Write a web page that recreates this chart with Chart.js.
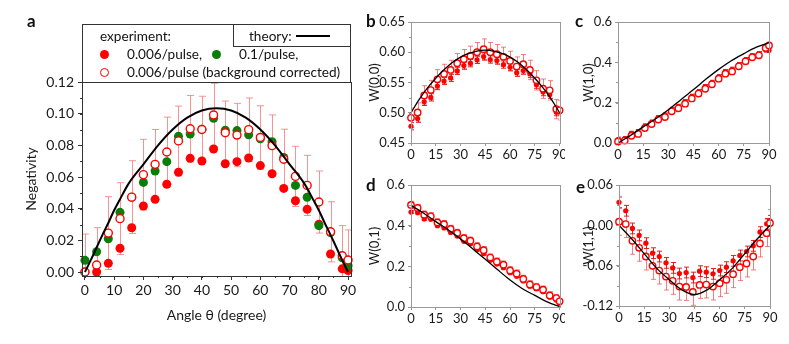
<!DOCTYPE html>
<html>
<head>
<meta charset="utf-8">
<script src="https://cdn.jsdelivr.net/npm/chart.js@4.4.1/dist/chart.umd.min.js"></script>
<style>
  body { margin: 0; background: #fff; }
  #wrap { position: relative; width: 789px; height: 344px; overflow: hidden; font-family: Lato, "Open Sans", sans-serif; color: #111; }
  .pane { position: absolute; }
  .lab { position: absolute; font-weight: bold; font-size: 17px; line-height: 20px; }
  .txt { position: absolute; font-size: 13.6px; line-height: 16px; white-space: nowrap; }
  .dot { position: absolute; width: 9px; height: 9px; border-radius: 50%; box-sizing: border-box; }
</style>
</head>
<body>
<div id="wrap">
  <div class="pane" style="left:0;top:0;width:360px;height:344px"><canvas id="ca"></canvas></div>
  <div class="pane" style="left:365px;top:0;width:200px;height:170px"><canvas id="cb"></canvas></div>
  <div class="pane" style="left:575px;top:0;width:214px;height:170px"><canvas id="cc"></canvas></div>
  <div class="pane" style="left:365px;top:170px;width:200px;height:174px"><canvas id="cd"></canvas></div>
  <div class="pane" style="left:575px;top:170px;width:214px;height:174px"><canvas id="ce"></canvas></div>

  <!-- legend of panel a -->
  <div style="position:absolute;left:82px;top:24px;width:269px;height:59px;border:1px solid #333;box-sizing:border-box;background:#fff"></div>
  <div style="position:absolute;left:233px;top:24px;width:118px;height:23px;border:1px solid #333;box-sizing:border-box"></div>
  <div class="txt" style="left:100px;top:28px">experiment:</div>
  <div class="txt" style="left:249px;top:28px">theory:</div>
  <div style="position:absolute;left:296px;top:35px;width:34px;height:2px;background:#000"></div>
  <div class="dot" style="left:100px;top:50px;background:#ff0000"></div>
  <div class="txt" style="left:127px;top:46px">0.006/pulse,</div>
  <div class="dot" style="left:212px;top:50px;background:#0a7d0a"></div>
  <div class="txt" style="left:239px;top:46px">0.1/pulse,</div>
  <div class="dot" style="left:100px;top:68px;border:1.5px solid #ff0000;background:#fff"></div>
  <div class="txt" style="left:127px;top:64px">0.006/pulse (background corrected)</div>

  <div class="lab" style="left:27px;top:11px">a</div>
  <div class="lab" style="left:366px;top:11px">b</div>
  <div class="lab" style="left:575px;top:11px">c</div>
  <div class="lab" style="left:366px;top:175px">d</div>
  <div class="lab" style="left:576px;top:177px">e</div>
</div>
<script>
// ---- panel a: negativity vs angle ----
const anglesA = [0, 4, 8, 12, 16, 20, 24, 28, 32, 36, 40, 44, 48, 52, 56, 60, 64, 68, 72, 76, 80, 84, 88, 90];
const negLow = [0.0, 0.0, 0.0055, 0.015, 0.028, 0.0417, 0.0459, 0.0554, 0.063, 0.0718, 0.0701, 0.0777,
  0.0684, 0.0697, 0.072, 0.0672, 0.0621, 0.0528, 0.045, 0.0396, 0.0301, 0.0114, 0.002, 0.001];
const negHigh = [0.0074, 0.0128, 0.021, 0.0377, 0.0472, 0.0566, 0.0638, 0.0697, 0.0857, 0.0872, 0.0901, 0.0971,
  0.0895, 0.0893, 0.0867, 0.0842, 0.0823, 0.0724, 0.0547, 0.0472, 0.0293, 0.025, 0.009, 0.004];
const negCorr = [0.0, 0.0044, 0.0246, 0.0337, 0.0473, 0.0615, 0.068, 0.0758, 0.0828, 0.0905, 0.09, 0.0992,
  0.088, 0.0865, 0.0899, 0.085, 0.0798, 0.0712, 0.0604, 0.0547, 0.0442, 0.0254, 0.0103, 0.0076];
const negCorrErr = [0.024, 0.0236, 0.023, 0.0227, 0.023, 0.0223, 0.022, 0.022, 0.022, 0.021, 0.021, 0.02,
  0.02, 0.02, 0.02, 0.02, 0.0194, 0.019, 0.019, 0.019, 0.0196, 0.019, 0.019, 0.019];
const thAnglesA = [0, 2, 4, 6, 8, 10, 12, 15, 20, 25, 30, 35, 40, 45, 50, 55, 60, 65, 70, 75, 78, 80, 82, 84, 86, 88, 90];
const thNeg = [0, 0.0075, 0.0155, 0.0235, 0.031, 0.039, 0.046, 0.056, 0.068, 0.08, 0.09, 0.0975, 0.102, 0.1034,
  0.102, 0.0975, 0.09, 0.08, 0.068, 0.056, 0.046, 0.039, 0.031, 0.0235, 0.0155, 0.0075, 0];

// ---- panels b-e: W(m,n) vs angle ----
const anglesW = [0, 4, 8, 12, 16, 20, 24, 28, 32, 36, 40, 44, 48, 52, 56, 60, 64, 68, 72, 76, 80, 84, 88, 90];
const w00Corr = [0.4916, 0.5004, 0.5287, 0.5375, 0.5553, 0.5641, 0.5708, 0.5819, 0.5885, 0.594, 0.6001, 0.6051,
  0.6001, 0.5968, 0.5924, 0.5857, 0.5763, 0.5802, 0.5708, 0.5536, 0.5398, 0.537, 0.506, 0.504];
const w00Raw = [0.4777, 0.4904, 0.5181, 0.5254, 0.5442, 0.5525, 0.5575, 0.5691, 0.578, 0.5819, 0.5874, 0.5929,
  0.588, 0.5863, 0.5796, 0.5752, 0.5663, 0.5697, 0.5641, 0.5464, 0.5342, 0.5298, 0.501, 0.5026];
const w10Corr = [0.008, 0.012, 0.036, 0.045, 0.074, 0.094, 0.116, 0.129, 0.157, 0.172, 0.195, 0.221,
  0.245, 0.269, 0.291, 0.319, 0.344, 0.355, 0.38, 0.405, 0.425, 0.435, 0.471, 0.484];
const w10Raw = [0.017, 0.02, 0.046, 0.055, 0.083, 0.102, 0.124, 0.137, 0.165, 0.18, 0.203, 0.23,
  0.253, 0.278, 0.299, 0.327, 0.352, 0.364, 0.387, 0.412, 0.431, 0.441, 0.463, 0.46];
const w01Corr = [0.502, 0.487, 0.454, 0.446, 0.416, 0.407, 0.384, 0.364, 0.338, 0.326, 0.298, 0.279,
  0.243, 0.223, 0.208, 0.18, 0.164, 0.138, 0.111, 0.098, 0.085, 0.057, 0.044, 0.028];
const w01Raw = [0.467, 0.464, 0.433, 0.431, 0.4, 0.389, 0.367, 0.349, 0.323, 0.311, 0.282, 0.262,
  0.23, 0.211, 0.193, 0.169, 0.151, 0.128, 0.102, 0.09, 0.075, 0.049, 0.034, 0.02];
const w11Corr = [0.0053, 0.0018, -0.023, -0.0334, -0.0464, -0.0603, -0.0673, -0.0762, -0.0826, -0.0911, -0.0916, -0.099,
  -0.0886, -0.0881, -0.0911, -0.0861, -0.0811, -0.0727, -0.0622, -0.0568, -0.0464, -0.027, -0.0116, 0.0033];
const w11Raw = [0.0342, 0.0217, -0.0046, -0.015, -0.0265, -0.0414, -0.0464, -0.0558, -0.0633, -0.0717, -0.0702, -0.0777,
  -0.0682, -0.0697, -0.0722, -0.0672, -0.0622, -0.0528, -0.0449, -0.0389, -0.0305, -0.0101, 0.0023, 0.0068];

const errB = [0.016, 0.016, 0.016, 0.016, 0.016, 0.016, 0.016, 0.016, 0.016, 0.016, 0.016, 0.017,
  0.016, 0.016, 0.016, 0.016, 0.016, 0.016, 0.016, 0.016, 0.016, 0.016, 0.016, 0.016];
const errBRaw = [0.006, 0.006, 0.006, 0.006, 0.006, 0.006, 0.006, 0.006, 0.006, 0.006, 0.006, 0.006,
  0.006, 0.006, 0.006, 0.006, 0.006, 0.006, 0.006, 0.006, 0.006, 0.006, 0.006, 0.006];
const errC = [0.012, 0.012, 0.012, 0.012, 0.012, 0.012, 0.012, 0.012, 0.012, 0.012, 0.012, 0.012,
  0.012, 0.012, 0.012, 0.012, 0.012, 0.012, 0.012, 0.012, 0.012, 0.012, 0.012, 0.012];
const errD = [0.018, 0.018, 0.018, 0.018, 0.018, 0.018, 0.018, 0.018, 0.018, 0.018, 0.018, 0.018,
  0.018, 0.018, 0.018, 0.018, 0.018, 0.018, 0.018, 0.018, 0.018, 0.018, 0.018, 0.018];
const errE = [0.02, 0.02, 0.02, 0.02, 0.02, 0.02, 0.02, 0.02, 0.02, 0.02, 0.02, 0.02,
  0.02, 0.02, 0.02, 0.02, 0.02, 0.02, 0.02, 0.02, 0.02, 0.02, 0.02, 0.02];
const errERaw = [0.008, 0.008, 0.008, 0.008, 0.008, 0.008, 0.008, 0.008, 0.008, 0.008, 0.008, 0.008,
  0.008, 0.008, 0.008, 0.008, 0.008, 0.008, 0.008, 0.008, 0.008, 0.008, 0.008, 0.008];

const thAnglesW = [0, 5, 10, 15, 20, 25, 30, 35, 40, 45, 50, 55, 60, 65, 70, 75, 80, 85, 90];
const thW00 = [0.5, 0.522, 0.541, 0.557, 0.571, 0.583, 0.592, 0.598, 0.602, 0.6035, 0.602, 0.598, 0.592, 0.583, 0.571, 0.557, 0.541, 0.522, 0.5];
const thAnglesW2 = [0, 7.5, 15, 22.5, 30, 37.5, 45, 52.5, 60, 67.5, 75, 82.5, 90];
const thW10 = [0, 0.038, 0.08, 0.12, 0.165, 0.215, 0.265, 0.317, 0.365, 0.408, 0.443, 0.475, 0.498];
const thW01 = [0.5, 0.462, 0.42, 0.38, 0.335, 0.285, 0.235, 0.183, 0.133, 0.09, 0.057, 0.025, 0.002];
const thW11 = [0, -0.02, -0.042, -0.064, -0.081, -0.096, -0.103, -0.096, -0.081, -0.064, -0.042, -0.02, 0];

const FONT = 'Lato, "Open Sans", sans-serif';
const RED = '#ff0000';

function pts(xs, ys) { return xs.map((x, i) => ({ x: x, y: ys[i] })); }

// vertical error bars with caps, drawn under the markers
const errorBars = {
  id: 'errorBars',
  beforeDatasetsDraw(chart) {
    const { ctx, chartArea: a, scales: { x, y } } = chart;
    ctx.save();
    ctx.beginPath();
    ctx.rect(a.left, a.top - 1, a.right - a.left, a.bottom - a.top + 1);
    ctx.clip();
    chart.data.datasets.forEach(ds => {
      if (!ds.errors) return;
      const cap = ds.capHalf || 3;
      ctx.strokeStyle = ds.errorColor;
      ctx.lineWidth = 1;
      ds.data.forEach((p, i) => {
        const e = ds.errors[i];
        const px = Math.round(x.getPixelForValue(p.x)) + 0.5;
        const top = y.getPixelForValue(p.y + e);
        const bot = y.getPixelForValue(p.y - e);
        ctx.beginPath();
        ctx.moveTo(px, top); ctx.lineTo(px, bot);
        ctx.moveTo(px - cap, top); ctx.lineTo(px + cap, top);
        ctx.moveTo(px - cap, bot); ctx.lineTo(px + cap, bot);
        ctx.stroke();
      });
    });
    ctx.restore();
  }
};

// box around the plot area plus short minor ticks
const frame = {
  id: 'frame',
  afterDraw(chart, args, opts) {
    const { ctx, chartArea: a, scales: { x, y } } = chart;
    ctx.save();
    ctx.strokeStyle = opts.color;
    ctx.lineWidth = 1;
    ctx.strokeRect(Math.round(a.left) + 0.5, Math.round(a.top) + 0.5,
      Math.round(a.right - a.left), Math.round(a.bottom - a.top));
    ctx.beginPath();
    if (opts.minorX) {
      for (let v = Math.ceil(x.min / opts.minorX) * opts.minorX; v <= x.max; v += opts.minorX) {
        const px = Math.round(x.getPixelForValue(v)) + 0.5;
        ctx.moveTo(px, a.bottom); ctx.lineTo(px, a.bottom + opts.len);
      }
    }
    if (opts.minorY) {
      for (let v = Math.ceil(y.min / opts.minorY - 1e-9) * opts.minorY; v <= y.max + 1e-9; v += opts.minorY) {
        const py = Math.round(y.getPixelForValue(v)) + 0.5;
        ctx.moveTo(a.left, py); ctx.lineTo(a.left - opts.len, py);
      }
    }
    ctx.stroke();
    ctx.restore();
  }
};

function axis(o) {
  const size = o.font || 13;
  return {
    type: 'linear',
    min: o.min, max: o.max,
    ticks: {
      stepSize: o.step, includeBounds: false, padding: o.pad, color: '#1a1a1a',
      font: { family: FONT, size: size },
      callback: v => (o.dec === undefined ? v : v.toFixed(o.dec)),
      maxRotation: 0, autoSkip: false
    },
    grid: { drawOnChartArea: false, drawTicks: true, tickLength: o.tl, color: o.color },
    border: { display: true, color: o.color },
    title: o.title ? { display: true, text: o.title, color: '#1a1a1a', font: { family: FONT, size: size }, padding: o.titlePad } : { display: false },
    afterFit: s => {
      if (o.width !== undefined) s.width = o.width;
      if (o.height !== undefined) s.height = o.height;
      s.paddingLeft = 0; s.paddingRight = 0; s.paddingTop = 0; s.paddingBottom = 0;
    }
  };
}

function theory(xs, ys, w) {
  return { data: pts(xs, ys), showLine: true, borderColor: '#000', borderWidth: w, pointRadius: 0,
    tension: 0.4, cubicInterpolationMode: 'monotone', clip: false };
}
function filled(xs, ys, r, errs, errColor) {
  return { data: pts(xs, ys), pointRadius: r, pointBackgroundColor: RED, pointBorderColor: RED, pointBorderWidth: 0,
    clip: false, errors: errs, errorColor: errColor, capHalf: 2.5 };
}
function open(xs, ys, r, errs, errColor, cap) {
  return { data: pts(xs, ys), pointRadius: r, pointBackgroundColor: '#fff', pointBorderColor: RED, pointBorderWidth: 1.4,
    clip: false, errors: errs, errorColor: errColor, capHalf: cap };
}

function makeChart(id, datasets, pad, xo, yo, frameOpts) {
  return new Chart(document.getElementById(id), {
    type: 'scatter',
    data: { datasets: datasets },
    options: {
      responsive: true, maintainAspectRatio: false, animation: false,
      layout: { padding: pad },
      plugins: { legend: { display: false }, tooltip: { enabled: false }, frame: frameOpts },
      scales: { x: axis(xo), y: axis(yo) }
    },
    plugins: [errorBars, frame]
  });
}

// panel a
makeChart('ca', [
  theory(thAnglesA, thNeg, 2),
  open(anglesA, negCorr, 4, negCorrErr, 'rgba(248,110,110,0.75)', 3.5),
  { data: pts(anglesA, negHigh), pointRadius: 4.5, pointBackgroundColor: '#0a7d0a', pointBorderWidth: 0, clip: false },
  { data: pts(anglesA, negLow), pointRadius: 4.5, pointBackgroundColor: RED, pointBorderWidth: 0, clip: false }
], { left: 0, top: 82, right: 9, bottom: 0 },
  { min: -1, max: 91, step: 10, pad: 2, tl: 4, color: '#333', height: 68, font: 14, title: 'Angle θ (degree)', titlePad: { top: 0, bottom: 20 } },
  { min: -0.0025, max: 0.12, step: 0.02, dec: 2, pad: 4, tl: 4, color: '#333', width: 82, font: 14, title: 'Negativity', titlePad: { top: 23 } },
  { color: '#333', minorX: 5, minorY: 0.01, len: 2 });

const PINK = 'rgba(240,70,70,0.7)';
const DARK = 'rgba(225,20,20,0.95)';

// panel b
makeChart('cb', [
  theory(thAnglesW, thW00, 1.3),
  open(anglesW, w00Corr, 3.2, errB, PINK, 2.5),
  filled(anglesW, w00Raw, 2.6, errBRaw, DARK)
], { left: 0, top: 22, right: 5, bottom: 0 },
  { min: 0, max: 90, step: 15, pad: 1, tl: 3, color: '#999', height: 27 },
  { min: 0.45, max: 0.65, step: 0.05, dec: 2, pad: 3, tl: 3, color: '#999', width: 46, title: 'W(0,0)', titlePad: { top: 2 } },
  { color: '#999', minorY: 0.025, len: 2 });

// panel c
makeChart('cc', [
  theory(thAnglesW2, thW10, 1.3),
  open(anglesW, w10Corr, 3.2, errC, PINK, 2.5),
  filled(anglesW, w10Raw, 2.6, errC, DARK)
], { left: 0, top: 22, right: 20, bottom: 0 },
  { min: 0, max: 90, step: 15, pad: 1, tl: 3, color: '#999', height: 27 },
  { min: 0, max: 0.6, step: 0.2, dec: 1, pad: 3, tl: 3, color: '#999', width: 43, title: 'W(1,0)', titlePad: { top: 6 } },
  { color: '#999', minorY: 0.1, len: 2 });

// panel d
makeChart('cd', [
  theory(thAnglesW2, thW01, 1.3),
  open(anglesW, w01Corr, 3.2, errD, PINK, 2.5),
  filled(anglesW, w01Raw, 2.6, errBRaw, DARK)
], { left: 0, top: 15, right: 5, bottom: 0 },
  { min: 0, max: 90, step: 15, pad: 1, tl: 3, color: '#999', height: 37 },
  { min: 0, max: 0.6, step: 0.2, dec: 1, pad: 3, tl: 3, color: '#999', width: 46, title: 'W(0,1)', titlePad: { top: 2 } },
  { color: '#999', minorY: 0.1, len: 2 });

// panel e
makeChart('ce', [
  theory(thAnglesW2, thW11, 1.3),
  open(anglesW, w11Corr, 3.2, errE, PINK, 2.5),
  filled(anglesW, w11Raw, 2.6, errERaw, DARK)
], { left: 0, top: 15, right: 19, bottom: 0 },
  { min: 0, max: 90, step: 15, pad: 1, tl: 3, color: '#999', height: 38 },
  { min: -0.12, max: 0.06, step: 0.06, dec: 2, pad: 3, tl: 3, color: '#999', width: 44, title: 'W(1,1)', titlePad: { top: 6 } },
  { color: '#999', minorY: 0.03, len: 2 });
</script>
</body>
</html>
